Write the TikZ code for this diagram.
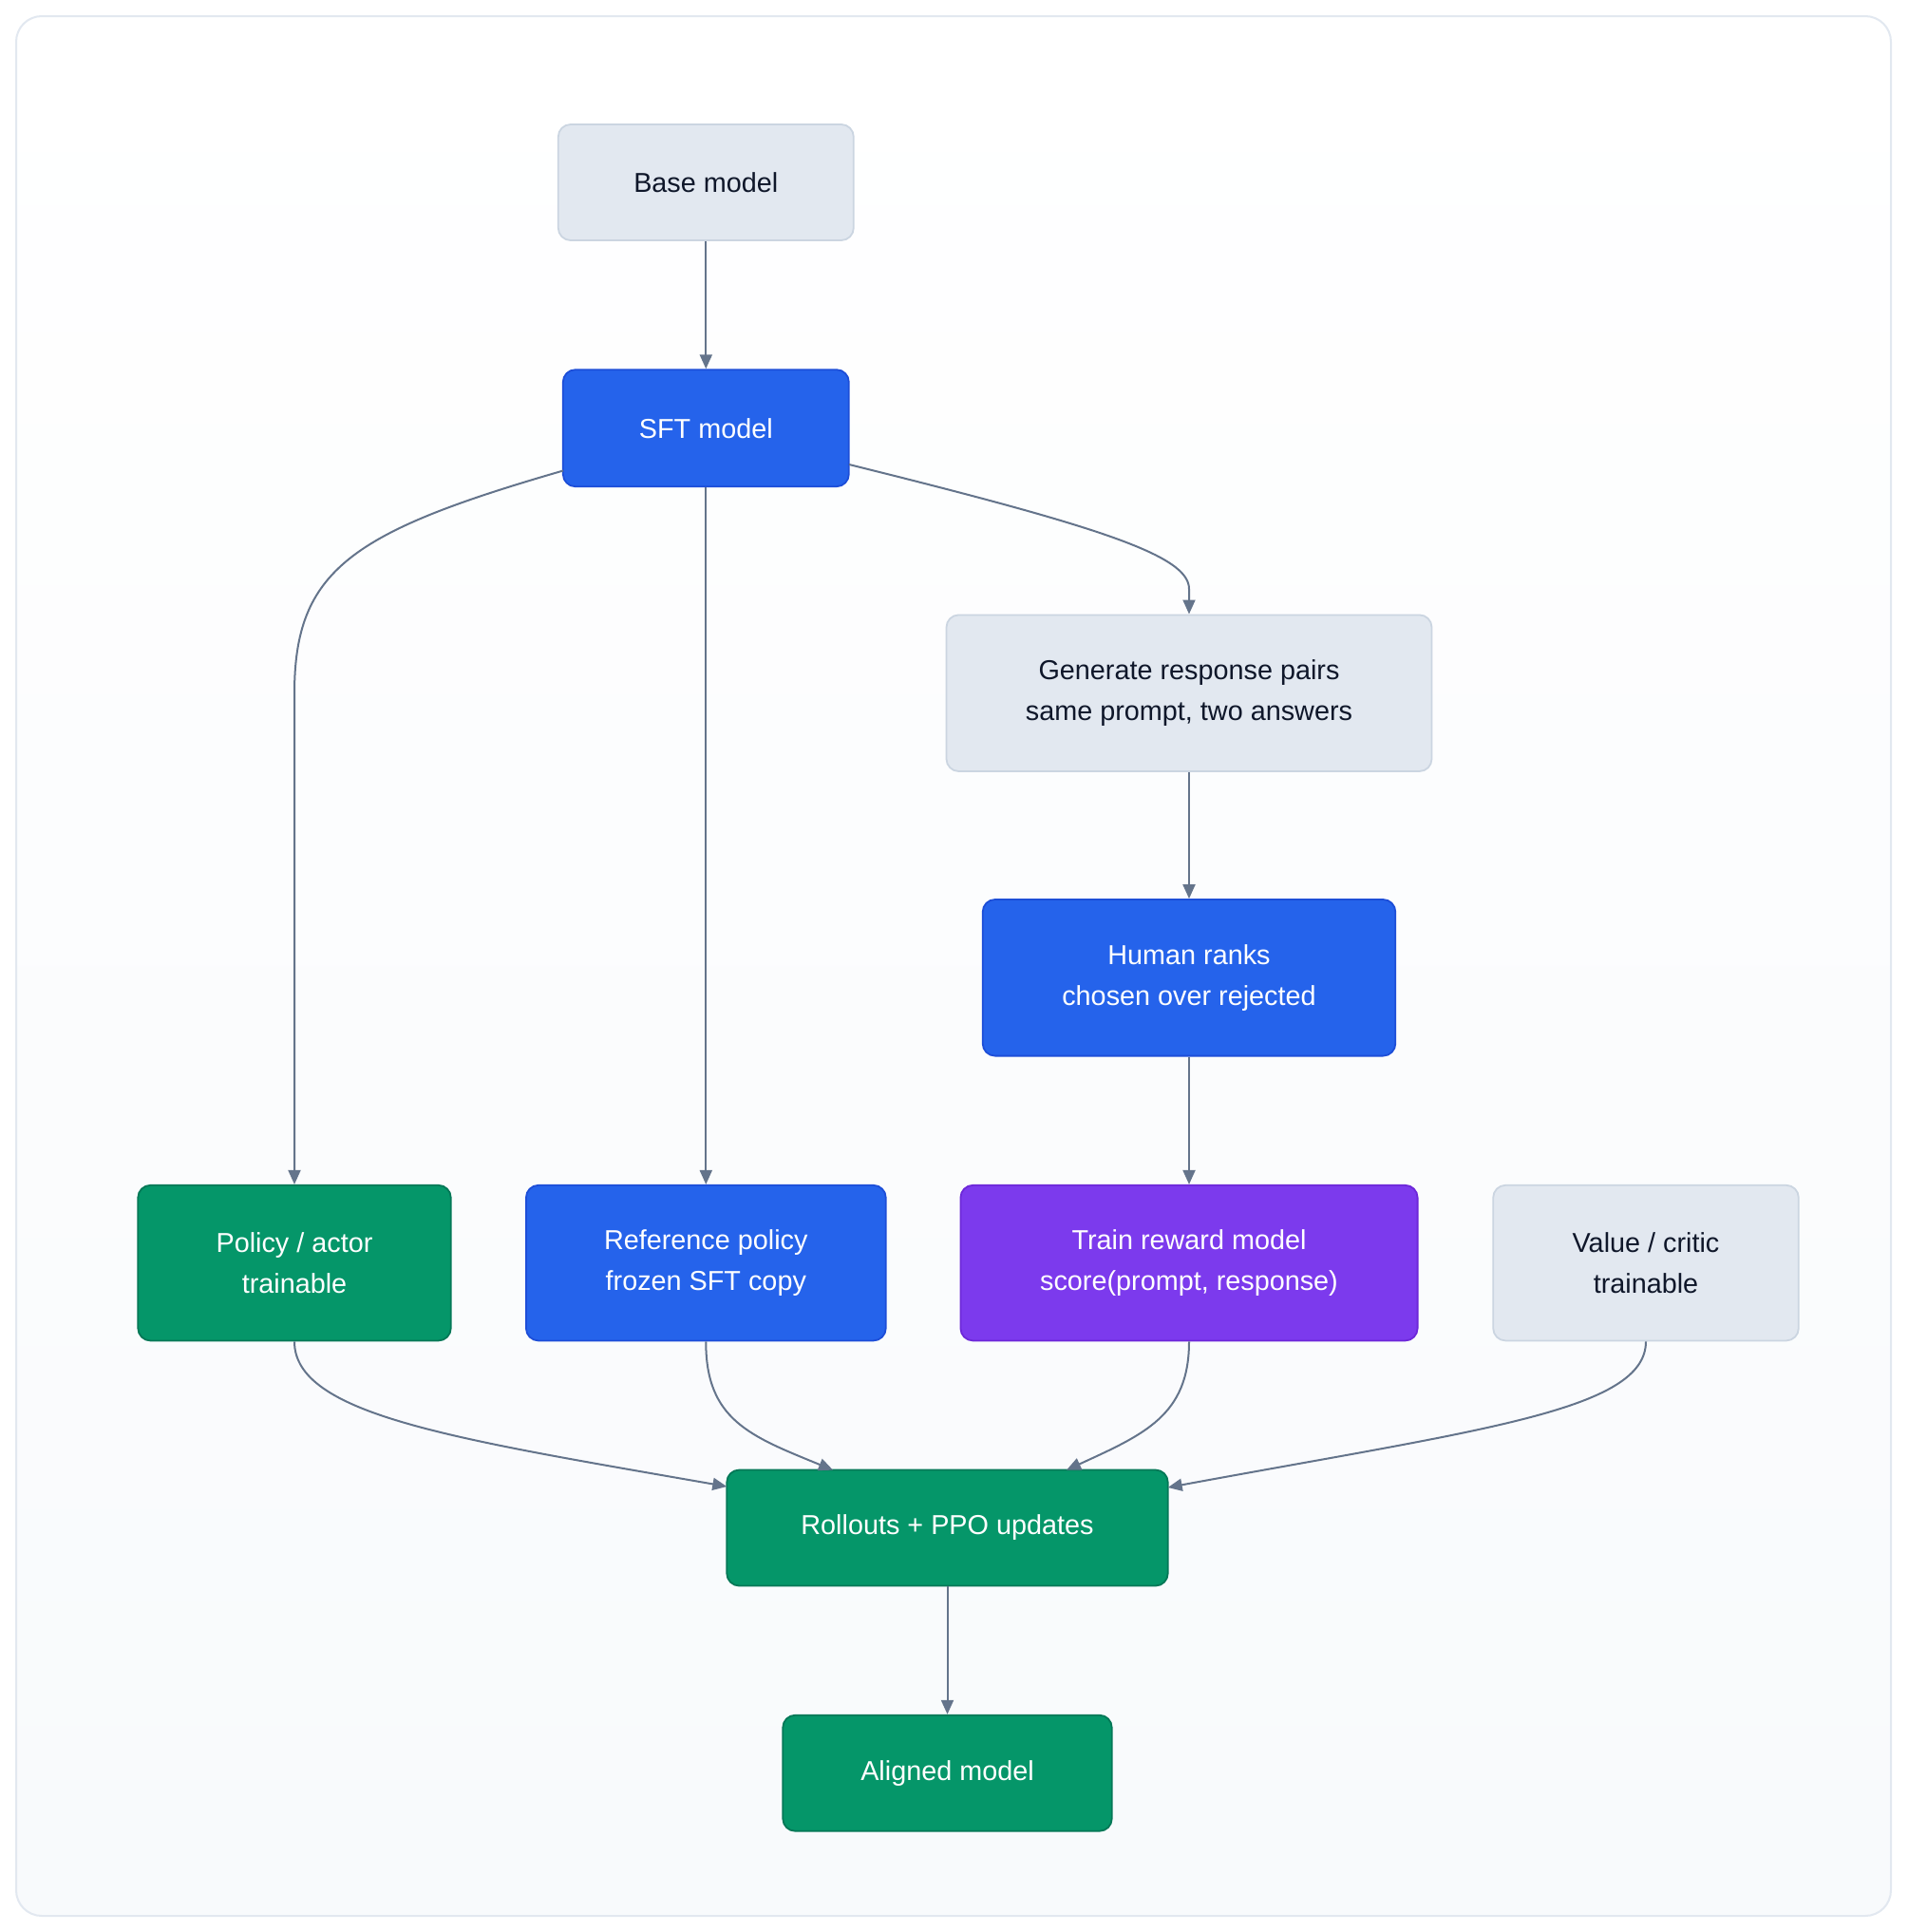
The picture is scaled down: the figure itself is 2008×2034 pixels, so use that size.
\documentclass[tikz,border=0pt]{standalone}
\usepackage{fontspec}
\setmainfont{Liberation Sans}
\usetikzlibrary{arrows.meta}
\definecolor{grayfill}{HTML}{E2E8F0}
\definecolor{graydraw}{HTML}{CBD5E1}
\definecolor{darktext}{HTML}{0F172A}
\definecolor{bluefill}{HTML}{2563EB}
\definecolor{bluedraw}{HTML}{1D4ED8}
\definecolor{greenfill}{HTML}{059669}
\definecolor{greendraw}{HTML}{047857}
\definecolor{purplefill}{HTML}{7C3AED}
\definecolor{purpledraw}{HTML}{6D28D9}
\definecolor{edgecol}{HTML}{64748B}
\definecolor{framecol}{HTML}{E2E8F0}
\definecolor{bgbottom}{HTML}{F8FAFC}
\tikzset{
  box/.style={rectangle, rounded corners=6.5pt, line width=0.9pt, align=center,
    font=\fontsize{14.4}{21.4}\selectfont, inner sep=0pt},
  twoline/.style={execute at begin node={\rule{0pt}{14.5pt}}},
  graybox/.style={box, fill=grayfill, draw=graydraw, text=darktext},
  bluebox/.style={box, fill=bluefill, draw=bluedraw, text=white},
  greenbox/.style={box, fill=greenfill, draw=greendraw, text=white},
  purplebox/.style={box, fill=purplefill, draw=purpledraw, text=white},
  conn/.style={draw=edgecol, line width=1pt, -{Triangle[length=7.5pt,width=6.5pt]}},
}
\begin{document}
\begin{tikzpicture}[x=0.5pt,y=-0.5pt]
\useasboundingbox (0,0) rectangle (2008,2034);
\fill[white] (0,0) rectangle (2008,2034);
\shade[top color=white, bottom color=bgbottom, rounded corners=13.5pt] (17,17) rectangle (1991,2017);
\draw[framecol, line width=1pt, rounded corners=13.5pt] (17,17) rectangle (1991,2017);

\node[graybox, minimum width=155.5pt, minimum height=61pt] (base) at (743.3,192) {Base model};
\node[bluebox, minimum width=150.5pt, minimum height=61.5pt] (sft) at (743.3,450.7) {SFT model};
\node[graybox, twoline, minimum width=255.5pt, minimum height=82.3pt] (gen) at (1252,729.7) {Generate response pairs\\same prompt, two answers};
\node[bluebox, twoline, minimum width=217.3pt, minimum height=82.3pt] (human) at (1252,1029.3) {Human ranks\\chosen over rejected};
\node[greenbox, twoline, minimum width=164.7pt, minimum height=81.8pt] (policy) at (310,1329.6) {Policy / actor\\trainable};
\node[bluebox, twoline, minimum width=189.4pt, minimum height=81.8pt] (ref) at (743.3,1329.6) {Reference policy\\frozen SFT copy};
\node[purplebox, twoline, minimum width=240.6pt, minimum height=81.8pt] (reward) at (1252,1329.6) {Train reward model\\score(prompt, response)};
\node[graybox, twoline, minimum width=160.8pt, minimum height=81.8pt] (value) at (1733,1329.6) {Value / critic\\trainable};
\node[greenbox, minimum width=232.2pt, minimum height=61pt] (roll) at (997.5,1608.5) {Rollouts + PPO updates};
\node[greenbox, minimum width=173.2pt, minimum height=61pt] (aligned) at (997.5,1866.7) {Aligned model};

\coordinate (sftL) at (593,495.5);
\coordinate (sftR) at (894,489);
\coordinate (rollL) at (765.3,1565);
\coordinate (rollTL) at (877,1547.6);
\coordinate (rollTR) at (1123,1547.6);
\coordinate (rollR) at (1229.7,1566);

\draw[conn] (base.south) -- (sft.north);
\draw[conn] (sftL) .. controls (370,560) and (310,600) .. (310,730) -- (policy.north);
\draw[conn] (sft.south) -- (ref.north);
\draw[conn] (sftR) .. controls (1160,555) and (1252,585) .. (1252,620) -- (gen.north);
\draw[conn] (gen.south) -- (human.north);
\draw[conn] (human.south) -- (reward.north);
\draw[conn] (policy.south) .. controls (310,1490) and (480,1515) .. (rollL);
\draw[conn] (ref.south) .. controls (743,1495) and (790,1512) .. (rollTL);
\draw[conn] (reward.south) .. controls (1252,1490) and (1205,1510) .. (rollTR);
\draw[conn] (value.south) .. controls (1733,1485) and (1560,1505) .. (rollR);
\draw[conn] (roll.south) -- (aligned.north);
\end{tikzpicture}
\end{document}
